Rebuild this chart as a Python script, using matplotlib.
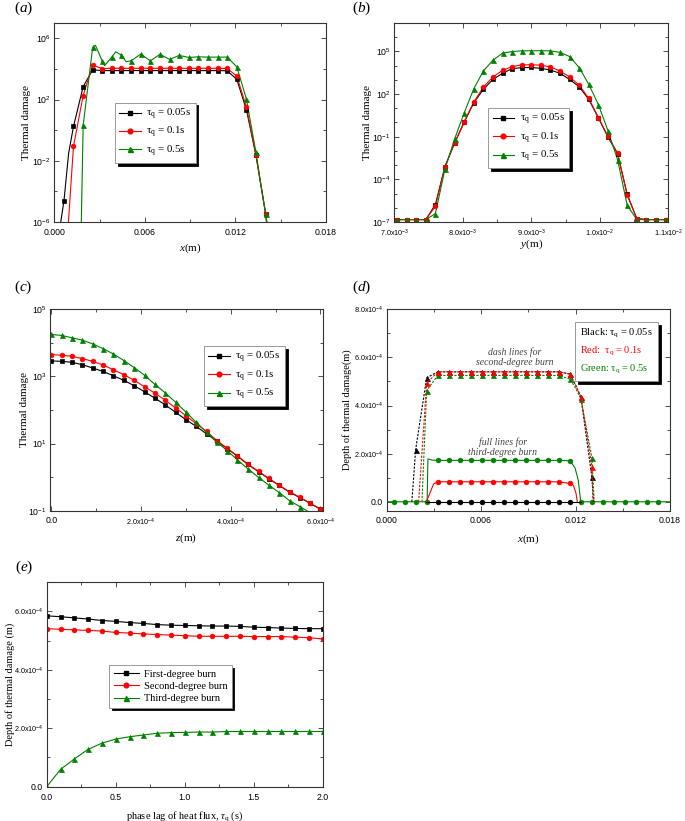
import numpy as np
import matplotlib
matplotlib.use("Agg")
import matplotlib.pyplot as plt
from matplotlib.lines import Line2D
from matplotlib.ticker import FixedLocator, NullFormatter

plt.rcParams['font.family'] = 'serif'
plt.rcParams['font.serif'] = ['Liberation Serif', 'DejaVu Serif']
plt.rcParams['mathtext.fontset'] = 'custom'
plt.rcParams['mathtext.rm'] = 'Liberation Serif'
plt.rcParams['mathtext.it'] = 'Liberation Serif:italic'
plt.rcParams['mathtext.sf'] = 'Liberation Sans'

BLACK, RED, GREEN = '#000000', '#ff0000', '#008000'

# ---------------- (a) thermal damage along x (log10 values) ----------------
a_x = [0.00064, 0.00127, 0.00191, 0.00254, 0.00318, 0.00382, 0.00445, 0.00509,
       0.00573, 0.00636, 0.00700, 0.00764, 0.00827, 0.00891, 0.00955, 0.01018,
       0.01082, 0.01145, 0.01209, 0.01273, 0.01336, 0.01400]
a_black = [-4.61, 0.24, 2.84, 3.94, 3.89, 3.89, 3.89, 3.89, 3.89, 3.89, 3.89,
           3.89, 3.89, 3.89, 3.89, 3.89, 3.89, 3.88, 3.32, 1.32, -1.64, -5.46]
a_red = [None, -1.06, 2.26, 4.25, 4.02, 4.04, 4.04, 4.04, 4.04, 4.04, 4.04,
         4.04, 4.04, 4.04, 4.04, 4.04, 4.04, 4.03, 3.53, 1.50, -1.64, -5.46]
a_green = [None, None, 0.31, 5.40, 4.51, 4.79, 4.90, 4.53, 4.97, 4.53, 4.95,
           4.62, 4.88, 4.75, 4.79, 4.77, 4.77, 4.77, 4.14, 2.02, -1.45, -5.46]
# extra curve points between / outside the markers
a_black_ex = ([0.00035, 0.00095, 0.01415], [-6.5, -1.5, -6.5])
a_red_ex = ([0.00090, 0.01415], [-6.5, -6.5])
a_green_ex = ([0.00178, 0.00272, 0.00333, 0.00407, 0.00475, 0.01363, 0.01410],
              [-6.5, 5.55, 4.21, 5.12, 4.47, -3.2, -6.5])

# ---------------- (b) thermal damage along y (log10 values) ----------------
b_y = [7.04e-3, 7.18e-3, 7.32e-3, 7.46e-3, 7.60e-3, 7.74e-3, 7.88e-3, 8.02e-3,
       8.16e-3, 8.30e-3, 8.44e-3, 8.58e-3, 8.72e-3, 8.86e-3, 9.00e-3, 9.14e-3,
       9.28e-3, 9.42e-3, 9.56e-3, 9.70e-3, 9.84e-3, 9.98e-3, 10.12e-3, 10.26e-3,
       10.40e-3, 10.54e-3, 10.68e-3, 10.82e-3, 10.96e-3]
b_black = [-6.83, -6.83, -6.83, -6.83, -5.77, -3.10, -1.45, 0.01, 1.38, 2.33,
           3.03, 3.46, 3.79, 3.86, 3.87, 3.81, 3.69, 3.46, 3.03, 2.51, 1.62,
           0.32, -1.03, -2.20, -5.05, -6.76, -6.83, -6.83, -6.83]
b_red = [-6.83, -6.83, -6.83, -6.83, -5.89, -3.10, -1.45, 0.05, 1.43, 2.49,
         3.20, 3.67, 3.93, 4.05, 4.06, 4.03, 3.91, 3.62, 3.20, 2.63, 1.69,
         0.35, -0.98, -2.16, -5.11, -6.76, -6.83, -6.83, -6.83]
b_green = [-6.83, -6.83, -6.83, -6.83, -6.41, -3.27, -1.17, 0.67, 2.37, 3.62,
           4.38, 4.88, 4.99, 5.04, 5.05, 5.05, 5.04, 4.93, 4.64, 3.86, 2.68,
           1.25, -0.58, -2.63, -5.82, -6.83, -6.83, -6.83, -6.83]

# ---------------- (c) thermal damage along z (log10 values) ----------------
c_z = [0.0, 0.23e-4, 0.46e-4, 0.69e-4, 0.92e-4, 1.15e-4, 1.38e-4, 1.62e-4,
       1.85e-4, 2.08e-4, 2.31e-4, 2.54e-4, 2.77e-4, 3.00e-4, 3.23e-4, 3.46e-4,
       3.69e-4, 3.92e-4, 4.15e-4, 4.38e-4, 4.62e-4, 4.85e-4, 5.08e-4, 5.31e-4,
       5.54e-4, 5.77e-4, 6.00e-4]
c_black = [3.46, 3.45, 3.42, 3.35, 3.25, 3.15, 3.02, 2.88, 2.72, 2.54, 2.35,
           2.15, 1.93, 1.71, 1.51, 1.29, 1.07, 0.85, 0.62, 0.38, 0.16, -0.05,
           -0.25, -0.45, -0.61, -0.78, -0.96]
c_red = [3.65, 3.63, 3.60, 3.53, 3.45, 3.34, 3.20, 3.05, 2.88, 2.69, 2.50, 2.29,
         2.06, 1.83, 1.59, 1.36, 1.09, 0.86, 0.63, 0.39, 0.17, -0.04, -0.24,
         -0.44, -0.60, -0.78, -0.95]
c_green = [4.25, 4.22, 4.15, 4.08, 3.97, 3.83, 3.67, 3.47, 3.26, 3.03, 2.76,
           2.51, 2.23, 1.94, 1.63, 1.34, 1.04, 0.79, 0.51, 0.25, -0.01, -0.24,
           -0.46, -0.70, -0.88, -1.06, None]

# ---------------- (d) depth of thermal damage along x ----------------
d_x = [0.00044, 0.00114, 0.00184, 0.00254, 0.00324, 0.00394, 0.00464, 0.00534,
       0.00604, 0.00674, 0.00744, 0.00814, 0.00884, 0.00954, 0.01024, 0.01094,
       0.01164, 0.01234, 0.01304, 0.01374, 0.01444, 0.01514, 0.01584, 0.01654,
       0.01724]
# second-degree burn (dash lines), units 1e-4 m
d2_black = [None, None, 2.17, 5.15, 5.40, 5.40, 5.40, 5.40, 5.40, 5.40, 5.40,
            5.40, 5.40, 5.40, 5.40, 5.40, 5.31, 4.35, 1.01]
d2_red = [None, None, None, 4.92, 5.40, 5.40, 5.40, 5.40, 5.40, 5.40, 5.40,
          5.40, 5.40, 5.40, 5.40, 5.40, 5.31, 4.35, 1.45]
d2_green = [None, None, None, 4.62, 5.25, 5.25, 5.25, 5.25, 5.25, 5.25, 5.25,
            5.25, 5.25, 5.25, 5.25, 5.25, 5.10, 4.28, 1.82]
d2_black_ex = ([0.00160, 0.01200, 0.01315], [0.0, 4.85, 0.0])
d2_red_ex = ([0.00203, 0.01200, 0.01310], [0.0, 4.85, 0.0])
d2_green_ex = ([0.00224, 0.01200, 0.01318], [0.0, 4.72, 0.0])
# third-degree burn (full lines), units 1e-4 m
d3_black = [None, None, None, None, 0, 0, 0, 0, 0, 0, 0, 0, 0, 0, 0, 0, 0]
d3_red = [None, None, None, None, 0.83, 0.83, 0.83, 0.83, 0.83, 0.83, 0.83,
          0.83, 0.83, 0.83, 0.83, 0.83, 0.76]
d3_green = [0, 0, 0, 0, 1.72, 1.72, 1.72, 1.72, 1.72, 1.72, 1.72, 1.72, 1.72,
            1.72, 1.72, 1.72, 1.70, 0, 0, 0, 0, 0, 0, 0, 0]
d3_black_ex = ([0.00252, 0.01233], [0.0, 0.0])
d3_red_ex = ([0.00252, 0.00298, 0.01186, 0.01203, 0.01211], [0.0, 0.74, 0.69, 0.35, 0.0])
d3_green_ex = ([0.0, 0.00257, 0.00262, 0.00290, 0.01196, 0.01217, 0.01233, 0.018],
               [0.0, 0.0, 1.78, 1.73, 1.42, 0.90, 0.0, 0.0])

# ---------------- (e) depth vs phase lag ----------------
e_tau = [0.0, 0.1, 0.2, 0.3, 0.4, 0.5, 0.6, 0.7, 0.8, 0.9, 1.0, 1.1, 1.2, 1.3,
         1.4, 1.5, 1.6, 1.7, 1.8, 1.9, 2.0]
e_first = [5.85, 5.82, 5.78, 5.74, 5.69, 5.66, 5.62, 5.59, 5.55, 5.53, 5.52,
           5.51, 5.50, 5.50, 5.49, 5.46, 5.45, 5.43, 5.42, 5.41, 5.41]
e_second = [5.41, 5.39, 5.37, 5.35, 5.33, 5.28, 5.26, 5.23, 5.21, 5.19, 5.17,
            5.15, 5.15, 5.15, 5.15, 5.14, 5.14, 5.14, 5.12, 5.10, 5.06]
e_third = [0.0, 0.59, 0.95, 1.28, 1.49, 1.63, 1.71, 1.77, 1.83, 1.85, 1.86,
           1.87, 1.87, 1.89, 1.89, 1.89, 1.89, 1.89, 1.89, 1.89, 1.89]

tau_labels = ['τ$_\\mathrm{q}$ = 0.05s', 'τ$_\\mathrm{q}$ = 0.1s', 'τ$_\\mathrm{q}$ = 0.5s']


def pick(xs, ys):
    pts = [(x, y) for x, y in zip(xs, ys) if y is not None]
    return np.array([p[0] for p in pts]), np.array([p[1] for p in pts], dtype=float)


def series(ax, xs, ys, extra, color, marker, ms, scale=1.0, log=False, ls='-', z=2):
    xm, ym = pick(xs, ys)
    xl, yl = xm, ym
    if extra is not None:
        xl = np.concatenate([xm, extra[0]])
        yl = np.concatenate([ym, extra[1]])
        o = np.argsort(xl, kind='stable')
        xl, yl = xl[o], yl[o]
    conv = (lambda v: 10.0 ** v) if log else (lambda v: v * scale)
    ax.plot(xl, conv(yl), color=color, lw=0.8, ls=ls, zorder=z)
    ax.plot(xm, conv(ym), ls='none', marker=marker, ms=ms, color=color,
            mec=color, mew=0.5, zorder=z + 0.5)


def handle(color, marker, ms):
    return Line2D([], [], color=color, lw=0.8, marker=marker, ms=ms, mec=color)


def boxed_legend(ax, handles, labels, anchor, fs, hl=2.0):
    leg = ax.legend(handles, labels, loc='upper left', bbox_to_anchor=anchor,
                    fontsize=fs, frameon=True, fancybox=False,
                    shadow={'color': 'k', 'alpha': 1}, edgecolor='#8a8a8a',
                    borderpad=0.4, labelspacing=0.3, handlelength=hl,
                    handletextpad=0.5, borderaxespad=0, framealpha=1)
    leg.get_frame().set_linewidth(0.6)
    return leg


def style(ax):
    for s in ax.spines.values():
        s.set_linewidth(0.8)
        s.set_color('#333333')
    ax.tick_params(which='both', direction='in', top=True, right=True,
                   labelsize=6.3, labelfontfamily='Liberation Sans', width=0.6,
                   color='#333333')
    ax.tick_params(which='major', length=3.5, pad=2.5)
    ax.tick_params(axis='x', which='major', pad=4.2)
    ax.tick_params(which='minor', length=2)
    # scientific labels are drawn a bit more compact in the original
    for t in ax.get_xticklabels() + ax.get_yticklabels():
        if 'x10' in t.get_text():
            t.set_fontsize(5.2)


def sci(m, e):
    return r'$\mathsf{' + m + 'x10^{' + str(e) + '}}$'


def logt(e):
    return r'$\mathsf{10^{' + str(e) + '}}$'


fig = plt.figure(figsize=(6.85, 8.21), dpi=100)

markers = [('s', 3.2), ('o', 3.4), ('^', 3.6)]
colors = [BLACK, RED, GREEN]

# ===== (a) =====
ax = fig.add_axes([0.0793, 0.7296, 0.3966, 0.2424])
series(ax, a_x, a_black, a_black_ex, BLACK, 's', 3.2, log=True)
series(ax, a_x, a_red, a_red_ex, RED, 'o', 3.4, log=True)
series(ax, a_x, a_green, a_green_ex, GREEN, '^', 3.6, log=True)
ax.set_yscale('log')
ax.set_xlim(0, 0.018)
ax.set_ylim(1e-6, 1e7)
ax.set_xticks([0, 0.006, 0.012, 0.018], ['0.000', '0.006', '0.012', '0.018'])
ax.xaxis.set_minor_locator(FixedLocator([0.003, 0.009, 0.015]))
ax.set_yticks([1e-6, 1e-2, 1e2, 1e6], [logt(-6), logt(-2), logt(2), logt(6)])
ax.yaxis.set_minor_locator(FixedLocator([1e-4, 1e0, 1e4]))
ax.yaxis.set_minor_formatter(NullFormatter())
style(ax)
ax.set_ylabel('Thermal damage', fontsize=8)
ax.set_xlabel('$x$(m)', fontsize=8)
ax.yaxis.set_label_coords(-0.085, 0.5)
ax.xaxis.set_label_coords(0.5, -0.10)
boxed_legend(ax, [handle(c, m, s) for c, (m, s) in zip(colors, markers)],
             tau_labels, (0.223, 0.60), 7.8)

# ===== (b) =====
ax = fig.add_axes([0.5756, 0.7296, 0.4, 0.2424])
series(ax, b_y, b_black, None, BLACK, 's', 3.2, log=True)
series(ax, b_y, b_red, None, RED, 'o', 3.4, log=True)
series(ax, b_y, b_green, None, GREEN, '^', 3.6, log=True)
ax.set_yscale('log')
ax.set_xlim(7.0e-3, 1.1e-2)
ax.set_ylim(1e-7, 1e7)
ax.set_xticks([7e-3, 8e-3, 9e-3, 1e-2, 1.1e-2],
              [sci('7.0', -3), sci('8.0', -3), sci('9.0', -3), sci('1.0', -2), sci('1.1', -2)])
ax.xaxis.set_minor_locator(FixedLocator([7.5e-3, 8.5e-3, 9.5e-3, 1.05e-2]))
ax.set_yticks([1e-7, 1e-4, 1e-1, 1e2, 1e5], [logt(-7), logt(-4), logt(-1), logt(2), logt(5)])
ax.yaxis.set_minor_locator(FixedLocator([10.0 ** k for k in (-6, -5, -3, -2, 0, 1, 3, 4, 6)]))
ax.yaxis.set_minor_formatter(NullFormatter())
style(ax)
ax.set_ylabel('Thermal damage', fontsize=8)
ax.set_xlabel('$y$(m)', fontsize=8)
ax.yaxis.set_label_coords(-0.082, 0.5)
ax.xaxis.set_label_coords(0.5, -0.078)
boxed_legend(ax, [handle(c, m, s) for c, (m, s) in zip(colors, markers)],
             tau_labels, (0.343, 0.574), 7.8)

# ===== (c) =====
ax = fig.add_axes([0.073, 0.378, 0.3981, 0.2453])
series(ax, c_z, c_black, None, BLACK, 's', 3.2, log=True)
series(ax, c_z, c_red, None, RED, 'o', 3.4, log=True)
series(ax, c_z, c_green, None, GREEN, '^', 3.6, log=True)
ax.set_yscale('log')
ax.set_xlim(-0.03e-4, 6.05e-4)
ax.set_ylim(1e-1, 1e5)
ax.set_xticks([0, 2e-4, 4e-4, 6e-4], ['0.0', sci('2.0', -4), sci('4.0', -4), sci('6.0', -4)])
ax.xaxis.set_minor_locator(FixedLocator([1e-4, 3e-4, 5e-4]))
ax.set_yticks([1e-1, 1e1, 1e3, 1e5], [logt(-1), logt(1), logt(3), logt(5)])
ax.yaxis.set_minor_locator(FixedLocator([1e0, 1e2, 1e4]))
ax.yaxis.set_minor_formatter(NullFormatter())
style(ax)
ax.set_ylabel('Thermal damage', fontsize=8)
ax.set_xlabel('$z$(m)', fontsize=8)
ax.yaxis.set_label_coords(-0.078, 0.5)
ax.xaxis.set_label_coords(0.5, -0.104)
boxed_legend(ax, [handle(c, m, s) for c, (m, s) in zip(colors, markers)],
             tau_labels, (0.565, 0.818), 7.8)

# ===== (d) =====
ax = fig.add_axes([0.5645, 0.378, 0.4136, 0.2453])
dash = (0, (2.0, 1.3))
series(ax, d_x, d3_green, d3_green_ex, GREEN, 'o', 3.4, scale=1e-4, z=2)
series(ax, d_x, d3_red, d3_red_ex, RED, 'o', 3.4, scale=1e-4, z=3)
series(ax, d_x, d3_black, d3_black_ex, BLACK, 'o', 3.4, scale=1e-4, z=4)
series(ax, d_x, d2_black, d2_black_ex, BLACK, '^', 3.6, scale=1e-4, ls=dash, z=5)
series(ax, d_x, d2_green, d2_green_ex, GREEN, '^', 3.6, scale=1e-4, ls=dash, z=6)
series(ax, d_x, d2_red, d2_red_ex, RED, '^', 3.6, scale=1e-4, ls=dash, z=7)
ax.set_xlim(0, 0.018)
ax.set_ylim(-0.37e-4, 8.0e-4)
ax.set_xticks([0, 0.006, 0.012, 0.018], ['0.000', '0.006', '0.012', '0.018'])
ax.xaxis.set_minor_locator(FixedLocator([0.003, 0.009, 0.015]))
ax.set_yticks([0, 2e-4, 4e-4, 6e-4, 8e-4],
              ['0.0', sci('2.0', -4), sci('4.0', -4), sci('6.0', -4), sci('8.0', -4)])
ax.yaxis.set_minor_locator(FixedLocator([1e-4, 3e-4, 5e-4, 7e-4]))
style(ax)
ax.set_ylabel('Depth of thermal damage(m)', fontsize=7.5)
ax.set_xlabel('$x$(m)', fontsize=8)
ax.yaxis.set_label_coords(-0.122, 0.5)
ax.xaxis.set_label_coords(0.5, -0.106)
ax.text(0.00815, 6.01e-4, 'dash lines for\nsecond-degree burn', fontsize=7,
        style='italic', color='#444444', ha='center', va='center', linespacing=1.1)
ax.text(0.00739, 2.26e-4, 'full lines for\nthird-degree burn', fontsize=7,
        style='italic', color='#444444', ha='center', va='center', linespacing=1.1)
blank = [Line2D([], [], ls='none') for _ in range(3)]
leg = ax.legend(blank, ['Black: ' + tau_labels[0], 'Red:  ' + tau_labels[1],
                        'Green: ' + tau_labels[2]],
                loc='upper left', bbox_to_anchor=(0.665, 0.937), fontsize=7.5,
                frameon=True, fancybox=False, shadow={'color': 'k', 'alpha': 1},
                edgecolor='#8a8a8a', borderpad=0.5, labelspacing=0.45,
                handlelength=0, handletextpad=0, borderaxespad=0, framealpha=1)
leg.get_frame().set_linewidth(0.6)
for t, c in zip(leg.get_texts(), colors):
    t.set_color(c)

# ===== (e) =====
ax = fig.add_axes([0.0682, 0.0418, 0.4029, 0.249])
series(ax, e_tau, e_first, None, BLACK, 's', 3.2, scale=1e-4)
series(ax, e_tau, e_second, None, RED, 'o', 3.4, scale=1e-4)
series(ax, e_tau, e_third, None, GREEN, '^', 3.6, scale=1e-4)
ax.set_xlim(0, 2.0)
ax.set_ylim(0, 7e-4)
ax.set_xticks([0, 0.5, 1.0, 1.5, 2.0], ['0.0', '0.5', '1.0', '1.5', '2.0'])
ax.xaxis.set_minor_locator(FixedLocator([0.25, 0.75, 1.25, 1.75]))
ax.set_yticks([0, 2e-4, 4e-4, 6e-4], ['0.0', sci('2.0', -4), sci('4.0', -4), sci('6.0', -4)])
ax.yaxis.set_minor_locator(FixedLocator([1e-4, 3e-4, 5e-4, 7e-4]))
style(ax)
ax.set_ylabel('Depth of thermal damage (m)', fontsize=7.5)
ax.set_xlabel(r'phase lag of heat flux, $\tau_\mathrm{q}$ (s)', fontsize=7.5)
ax.yaxis.set_label_coords(-0.115, 0.5)
ax.xaxis.set_label_coords(0.5, -0.107)
boxed_legend(ax, [handle(c, m, s) for c, (m, s) in zip(colors, markers)],
             ['First-degree burn', 'Second-degree burn', 'Third-degree burn'],
             (0.227, 0.595), 7.5, hl=2.4)

# panel letters
for lab, (px, py) in zip('abcde', [(24, 8.5), (362, 8.5), (23, 287.5), (362, 287), (24, 567.5)]):
    fig.text(px / 685, 1 - py / 821, '($' + lab + '$)', fontsize=11,
             ha='center', va='center')

fig.savefig('out.png', dpi=100)
